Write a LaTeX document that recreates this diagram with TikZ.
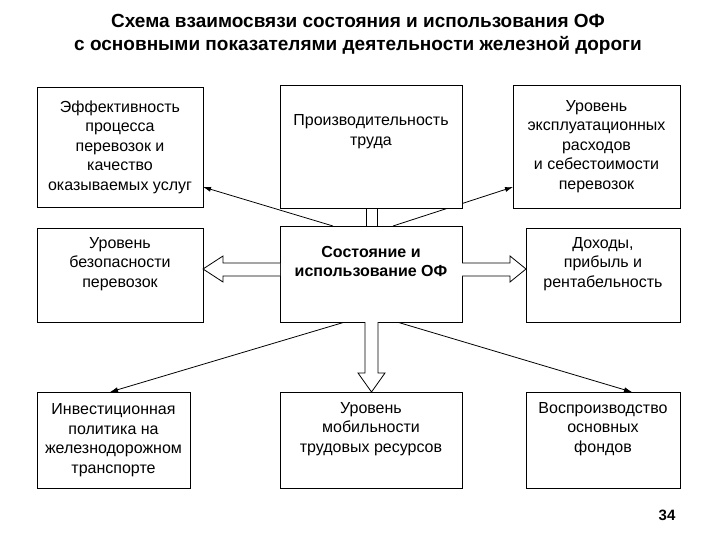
\documentclass[tikz,border=0pt]{standalone}
\usepackage{fontspec}
\setmainfont{Liberation Sans}
\usetikzlibrary{arrows.meta}
\begin{document}
\begin{tikzpicture}[x=1pt,y=-1pt,
 box/.style={draw,line width=0.8pt,align=center,font=\fontsize{16}{19.5}\selectfont,inner sep=0pt},
 conn/.style={line width=0.8pt,-{Latex[length=8pt,width=5pt]}},
 blk/.style={draw,line width=0.8pt,fill=white}]
\useasboundingbox (0,0) rectangle (720,540);
\node[font=\bfseries\fontsize{19}{23}\selectfont,align=center] (title) at (358,34) {Схема взаимосвязи состояния и использования ОФ\\с основными показателями деятельности железной дороги};
\coordinate (s1) at (333,226); \coordinate (e1) at (203,187);
\coordinate (s2) at (393,226); \coordinate (e2) at (513,187);
\coordinate (s3) at (345,322); \coordinate (e3) at (110,392);
\coordinate (s4) at (397,322); \coordinate (e4) at (632,392);
\draw[conn] (s1) -- (e1);
\draw[conn] (s2) -- (e2);
\draw[conn] (s3) -- (e3);
\draw[conn] (s4) -- (e4);
\node[box,minimum width=166,minimum height=120] (tl) at (120,147) {Эффективность\\процесса\\перевозок и\\качество\\оказываемых услуг};
\node[box,minimum width=182,minimum height=123,fill=white] (tc) at (371,146.5) {Производительность\\труда\\[14pt]};
\node[box,minimum width=167,minimum height=123] (tr) at (596.5,146.5) {Уровень\\эксплуатационных\\расходов\\и себестоимости\\перевозок};
\node[box,minimum width=166,minimum height=94] (ml) at (120,275) {Уровень\\безопасности\\перевозок\\[6pt]};
\node[box,minimum width=182,minimum height=96,fill=white,font=\bfseries\fontsize{16}{19.5}\selectfont] (cc) at (371,274) {Состояние и\\использование ОФ\\[6pt]};
\node[box,minimum width=154,minimum height=94] (mr) at (603,275) {Доходы,\\прибыль и\\рентабельность\\[6pt]};
\node[box,minimum width=153,minimum height=96] (bl) at (113.5,440) {Инвестиционная\\политика на\\железнодорожном\\транспорте};
\node[box,minimum width=182,minimum height=96] (bc) at (371,440) {Уровень\\мобильности\\трудовых ресурсов\\[6pt]};
\node[box,minimum width=154,minimum height=96] (br) at (603,440) {Воспроизводство\\основных\\фондов\\[6pt]};
\draw[blk] (366,208) rectangle (377,226);
\draw[blk] (280,263) -- (223,263) -- (223,256) -- (203,269) -- (223,282) -- (223,276) -- (280,276);
\draw[blk] (462,263) -- (510,263) -- (510,256) -- (526,269) -- (510,282) -- (510,276) -- (462,276);
\draw[blk] (365,322) -- (365,373) -- (358,373) -- (371.5,392) -- (385,373) -- (378,373) -- (378,322);
\node[font=\bfseries\fontsize{15}{18}\selectfont] (num) at (667,515) {34};
\end{tikzpicture}
\end{document}
